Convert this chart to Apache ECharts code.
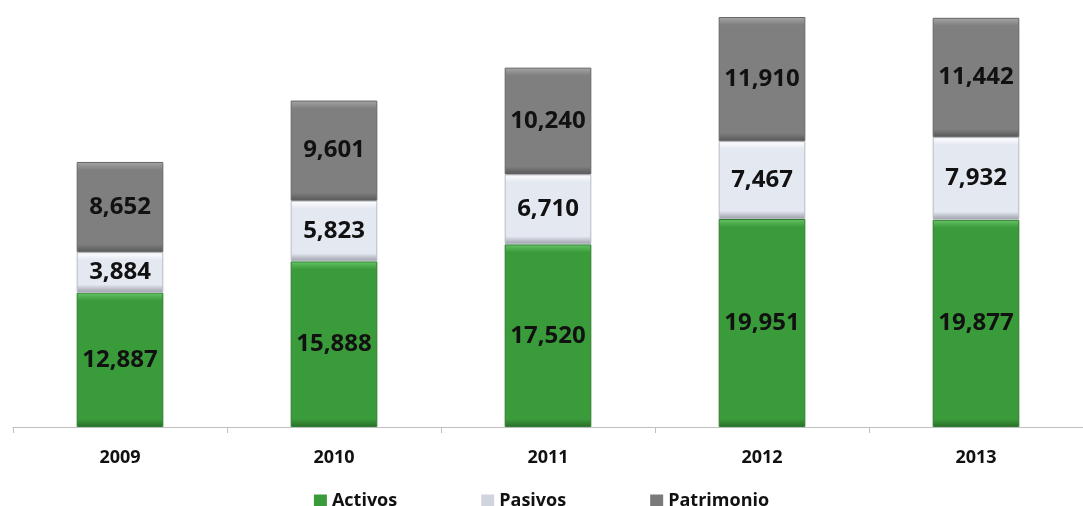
<!DOCTYPE html>
<html>
<head>
<meta charset="utf-8">
<script src="https://cdn.jsdelivr.net/npm/echarts@6/dist/echarts.min.js"></script>
<style>
  html, body { margin: 0; padding: 0; background: #fff; }
  #main { width: 1083px; height: 506px; }
</style>
</head>
<body>
<div id="main"></div>
<script>
var years = ['2009', '2010', '2011', '2012', '2013'];
var activos = [12887, 15888, 17520, 19951, 19877];
var pasivos = [3884, 5823, 6710, 7467, 7932];
var patrimonio = [8652, 9601, 10240, 11910, 11442];

var yMax = 40000;
var plotH = 417;   // grid height in px, used only to size the bevel

// bevel look: light top edge, dark bottom edge
function bevel (light, base, dark) {
    return function (v) {
        var h = v / yMax * plotH;
        var f = Math.min(0.3, 8 / h);
        return {
            type: 'linear', x: 0, y: 0, x2: 0, y2: 1,
            colorStops: [
                {offset: 0, color: light},
                {offset: f, color: base},
                {offset: 1 - f, color: base},
                {offset: 1, color: dark}
            ]
        };
    };
}

var styles = {
    'Activos': {fill: bevel('#66c466', '#3a9b3a', '#2a6e2a'), border: '#2e7d2e', legend: '#3a9b3a'},
    'Pasivos': {fill: bevel('#ffffff', '#e4e8f1', '#9a9ca6'), border: '#b8bbc6', legend: '#d0d4de'},
    'Patrimonio': {fill: bevel('#a6a6a6', '#7f7f7f', '#575757'), border: '#666666', legend: '#7a7a7a'}
};

function makeSeries (name, values) {
    var st = styles[name];
    return {
        name: name,
        type: 'bar',
        stack: 'total',
        barWidth: '40.5%',
        itemStyle: {color: st.legend},
        label: {
            show: true,
            position: 'inside',
            color: '#111',
            fontFamily: 'Open Sans',
            fontWeight: 'bold',
            fontSize: 24,
            formatter: function (p) { return p.value.toLocaleString('en-US'); }
        },
        data: values.map(function (v) {
            return {
                value: v,
                itemStyle: {color: st.fill(v), borderColor: st.border, borderWidth: 1}
            };
        })
    };
}

var myChart = echarts.init(document.getElementById('main'));
myChart.setOption({
    backgroundColor: '#ffffff',
    animation: false,
    legend: {
        top: 487,
        left: 'center',
        itemWidth: 13,
        itemHeight: 13,
        itemGap: 84,
        icon: 'rect',
        textStyle: {fontFamily: 'Open Sans', fontWeight: 'bold', fontSize: 18, color: '#111'},
        data: ['Activos', 'Pasivos', 'Patrimonio']
    },
    grid: {left: 13, right: -13, top: 10, bottom: 79},
    xAxis: {
        type: 'category',
        data: years,
        axisLine: {lineStyle: {color: '#bfbfbf', width: 1}},
        axisTick: {show: true, length: 6, lineStyle: {color: '#bfbfbf'}},
        axisLabel: {
            margin: 22,
            fontFamily: 'Open Sans',
            fontWeight: 'bold',
            fontSize: 18,
            color: '#111'
        }
    },
    yAxis: {
        type: 'value',
        min: 0,
        max: yMax,
        show: false,
        splitLine: {show: false}
    },
    series: [
        makeSeries('Activos', activos),
        makeSeries('Pasivos', pasivos),
        makeSeries('Patrimonio', patrimonio)
    ]
});
</script>
</body>
</html>
